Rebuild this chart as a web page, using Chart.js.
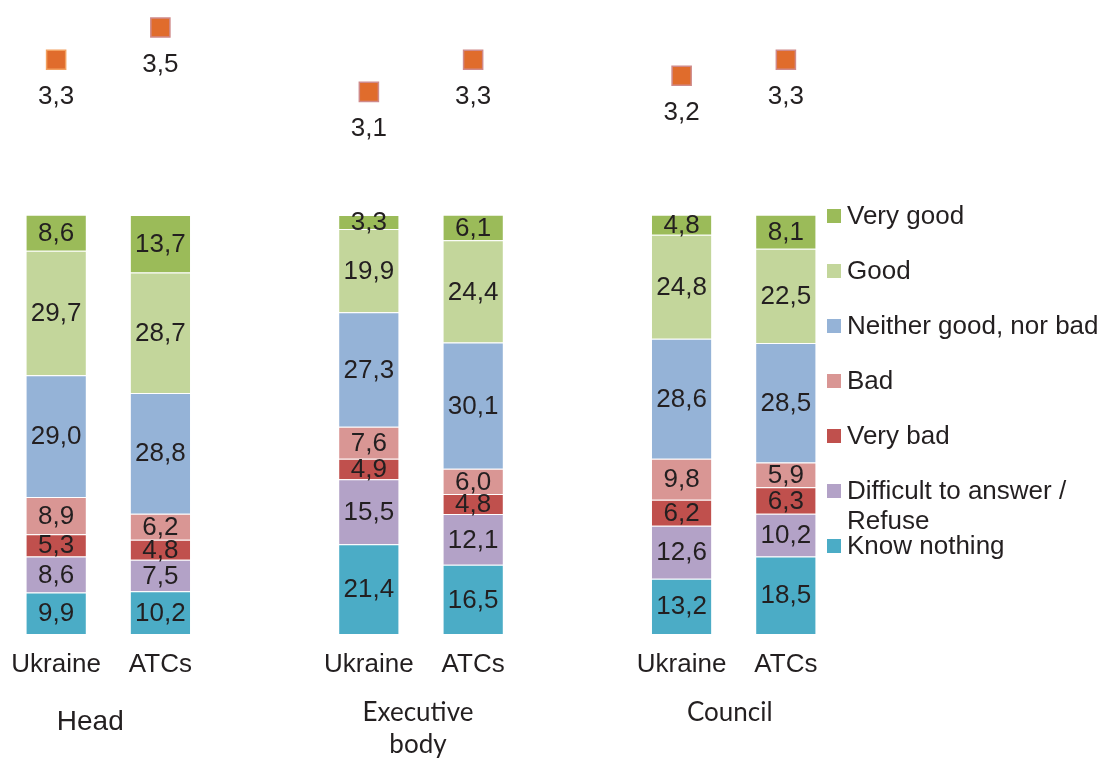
<!DOCTYPE html>
<html>
<head>
<meta charset="utf-8">
<script src="https://cdn.jsdelivr.net/npm/chart.js@4"></script>
<style>
  html, body { margin: 0; padding: 0; background: #fff; }
  #wrap { width: 1106px; height: 760px; position: relative; }
</style>
</head>
<body>
<div id="wrap"><canvas id="chart"></canvas></div>
<script>
/* Assessment of local self-government bodies: stacked shares + average score. */

const BAR_LABELS = ["Ukraine", "ATCs", "", "Ukraine", "ATCs", "", "Ukraine", "ATCs"];
const GROUPS = [
  { name: ["Head"], from: 0, to: 1 },
  { name: ["Executive", "body"], from: 3, to: 4 },
  { name: ["Council"], from: 6, to: 7 },
];

// gaps between groups are empty categories
const VERY_GOOD    = [8.6, 13.7, null, 3.3, 6.1, null, 4.8, 8.1];
const GOOD         = [29.7, 28.7, null, 19.9, 24.4, null, 24.8, 22.5];
const NEITHER      = [29.0, 28.8, null, 27.3, 30.1, null, 28.6, 28.5];
const BAD          = [8.9, 6.2, null, 7.6, 6.0, null, 9.8, 5.9];
const VERY_BAD     = [5.3, 4.8, null, 4.9, 4.8, null, 6.2, 6.3];
const DIFFICULT    = [8.6, 7.5, null, 15.5, 12.1, null, 12.6, 10.2];
const KNOW_NOTHING = [9.9, 10.2, null, 21.4, 16.5, null, 13.2, 18.5];
const AVG_SCORE    = [3.3, 3.5, null, 3.1, 3.3, null, 3.2, 3.3];

const FONT = "'Liberation Sans', Arial, sans-serif";
const TEXT = "#231f20";

const fmt = (v) => v.toFixed(1).replace(".", ",");

const stack = [
  { label: "Know nothing", data: KNOW_NOTHING, color: "#4bacc6" },
  { label: "Difficult to answer / Refuse", data: DIFFICULT, color: "#b3a2c7" },
  { label: "Very bad", data: VERY_BAD, color: "#c0504d" },
  { label: "Bad", data: BAD, color: "#d99694" },
  { label: "Neither good, nor bad", data: NEITHER, color: "#95b3d7" },
  { label: "Good", data: GOOD, color: "#c3d69b" },
  { label: "Very good", data: VERY_GOOD, color: "#9bbb59" },
];

// value text in the middle of each segment, score text under each marker
const valueLabels = {
  id: "valueLabels",
  afterDatasetsDraw(chart) {
    const ctx = chart.ctx;
    ctx.save();
    ctx.fillStyle = TEXT;
    ctx.font = `26px ${FONT}`;
    ctx.textAlign = "center";
    ctx.textBaseline = "middle";
    chart.data.datasets.forEach((ds, i) => {
      const meta = chart.getDatasetMeta(i);
      meta.data.forEach((el, j) => {
        const v = ds.data[j];
        if (v == null) return;
        if (ds.type === "line") {
          ctx.fillText(fmt(v), el.x, el.y + 37);
        } else {
          ctx.fillText(fmt(v), el.x, (el.y + el.base) / 2 + 1);
        }
      });
    });
    ctx.restore();
  },
};

// group captions under the category ticks
const groupLabels = {
  id: "groupLabels",
  afterDraw(chart, args, opts) {
    const ctx = chart.ctx;
    const x = chart.scales.x;
    const bottom = chart.chartArea.bottom;
    ctx.save();
    ctx.fillStyle = TEXT;
    ctx.textAlign = "center";
    ctx.textBaseline = "middle";
    GROUPS.forEach((g, i) => {
      const st = opts.styles[i];
      const cx = (x.getPixelForValue(g.from) + x.getPixelForValue(g.to)) / 2 + st.dx;
      ctx.font = st.font;
      g.name.forEach((line, k) => ctx.fillText(line, cx, bottom + st.dy + k * st.lineHeight));
    });
    ctx.restore();
  },
};

// legend on the right, top item first, long names wrapped
const sideLegend = {
  id: "sideLegend",
  afterDraw(chart, args, opts) {
    const ctx = chart.ctx;
    ctx.save();
    ctx.font = `26px ${FONT}`;
    ctx.textBaseline = "middle";
    ctx.textAlign = "left";
    const items = chart.data.datasets.filter((d) => d.type !== "line").slice().reverse();
    items.forEach((ds, i) => {
      const y = opts.top + i * opts.step;
      ctx.fillStyle = ds.backgroundColor;
      ctx.fillRect(opts.x, y - 7, 14, 14);
      ctx.fillStyle = TEXT;
      const words = ds.label.split(" ");
      const lines = [];
      let cur = "";
      words.forEach((w) => {
        const t = cur ? cur + " " + w : w;
        if (ctx.measureText(t).width > opts.maxWidth && cur) { lines.push(cur); cur = w; }
        else cur = t;
      });
      lines.push(cur);
      lines.forEach((ln, k) => ctx.fillText(ln, opts.x + 20, y + 1 + k * 30));
    });
    ctx.restore();
  },
};

const datasets = stack.map((s) => ({
  type: "bar",
  label: s.label,
  data: s.data,
  backgroundColor: s.color,
  borderColor: "rgba(255,255,255,0.55)",
  borderWidth: { top: 1, bottom: 0, left: 0, right: 0 },
  borderSkipped: false,
  stack: "s",
  yAxisID: "y",
  barPercentage: 0.571,
  categoryPercentage: 1,
  order: 2,
}));

datasets.push({
  type: "line",
  label: "Average score",
  data: AVG_SCORE,
  yAxisID: "y2",
  showLine: false,
  pointStyle: "rect",
  pointRadius: 13.5,
  pointHoverRadius: 13.5,
  pointBackgroundColor: "#e06c2c",
  pointBorderColor: ["#f2a060", "#cf8a8a", "#cf8a8a", "#cf8a8a", "#cf8a8a", "#cf8a8a", "#cf8a8a", "#cf8a8a"],
  pointBorderWidth: 1.5,
  order: 1,
});

new Chart(document.getElementById("chart"), {
  data: { labels: BAR_LABELS, datasets },
  options: {
    responsive: true,
    maintainAspectRatio: false,
    animation: false,
    events: [],
    layout: { autoPadding: false, padding: { top: 5, left: 4, right: 268, bottom: 80 } },
    plugins: {
      legend: { display: false },
      tooltip: { enabled: false },
      groupLabels: {
        styles: [
          { dx: -18, dy: 88, lineHeight: 32, font: `28px ${FONT}` },
          { dx: -3, dy: 79, lineHeight: 32, font: "26px Lato, sans-serif" },
          { dx: -4, dy: 79, lineHeight: 32, font: "26px Lato, sans-serif" },
        ],
      },
      sideLegend: { x: 827, top: 216, step: 55, maxWidth: 256 },
    },
    scales: {
      x: {
        stacked: true,
        offset: true,
        grid: { display: false, drawTicks: false },
        border: { display: false },
        ticks: { color: TEXT, font: { family: FONT, size: 26 }, padding: 15, maxRotation: 0, autoSkip: false },
        // keep the plot edge fixed: no extra room for the first/last tick label
        afterFit(scale) {
          scale.paddingLeft = 0;
          scale.paddingRight = 0;
          scale.height = 46;
        },
      },
      y: {
        stacked: true,
        min: 0,
        max: 150,
        display: false,
      },
      y2: {
        min: -0.27,
        max: 3.64,
        display: false,
      },
    },
  },
  plugins: [valueLabels, groupLabels, sideLegend],
});
</script>
</body>
</html>
